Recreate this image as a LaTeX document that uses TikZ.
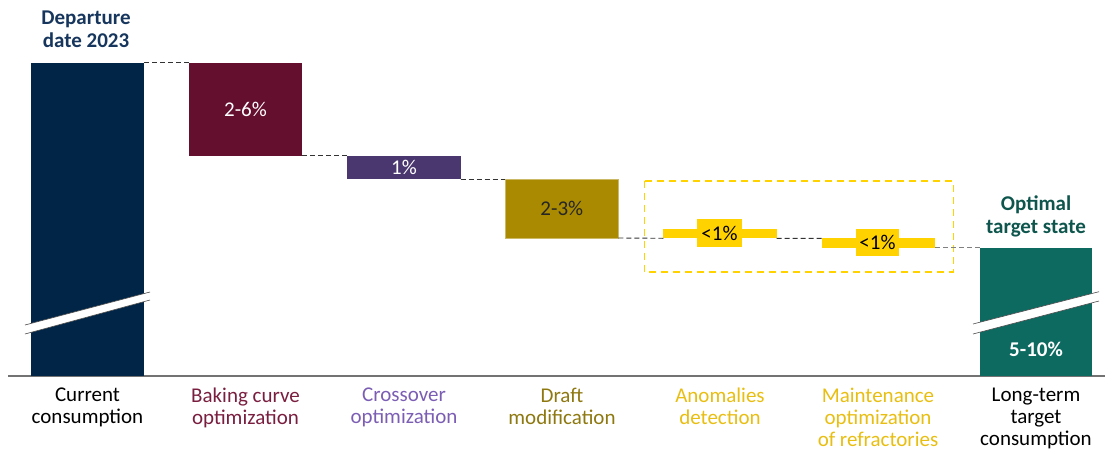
\documentclass[tikz,border=0pt]{standalone}
\usepackage{fontspec}
\setmainfont{Carlito}
\definecolor{cnavy}{HTML}{002547}
\definecolor{cmaroon}{HTML}{650F2F}
\definecolor{cpurple}{HTML}{4A376F}
\definecolor{colive}{HTML}{A98A00}
\definecolor{cyellow}{HTML}{FFD200}
\definecolor{cteal}{HTML}{0C6A61}
\definecolor{tnavy}{HTML}{17365D}
\definecolor{tteal}{HTML}{0E564D}
\definecolor{lmaroon}{HTML}{7A1E40}
\definecolor{lpurple}{HTML}{7B5EB4}
\definecolor{lolive}{HTML}{8E7810}
\definecolor{lyellow}{HTML}{E8BE12}
\begin{document}
\begin{tikzpicture}[x=1pt,y=-1pt,
  bar/.style={anchor=north west,inner sep=0pt,outer sep=0pt,font=\fontsize{21}{22}\selectfont},
  cat/.style={anchor=north,inner sep=0pt,align=center,font=\fontsize{21}{22}\selectfont},
  ttl/.style={anchor=north,inner sep=0pt,align=center,font=\bfseries\fontsize{21}{23}\selectfont},
  conn/.style={black!80,line width=0.9pt,dash pattern=on 5pt off 3pt},
  brk/.style={fill=white,draw=none}]
\useasboundingbox (0,0) rectangle (1105,450);
% baseline
\draw[gray!90!black,line width=1.4pt] (8,376) -- (1105,376);
% bars
\node[bar,fill=cnavy,minimum width=113pt,minimum height=313.3pt] (cur) at (31,62.7) {};
\node[bar,fill=cmaroon,text=white,minimum width=113pt,minimum height=93pt] (bak) at (189,62.7) {2-6\%};
\node[bar,fill=cpurple,text=white,minimum width=113.4pt,minimum height=23.6pt] (cro) at (347.3,155.7) {1\%};
\node[bar,fill=colive,draw=colive!60!white,line width=0.6pt,text=black!85,minimum width=113pt,minimum height=58.7pt] (dra) at (505.3,179.3) {2-3\%};
\node[bar,fill=cyellow,minimum width=113.4pt,minimum height=9.3pt] (ano) at (663.3,229) {};
\node[fill=cyellow,inner sep=0pt,minimum width=44.4pt,minimum height=28pt,font=\fontsize{21}{22}\selectfont] (anol) at (719.5,233.3) {<1\%};
\node[bar,fill=cyellow,minimum width=113.3pt,minimum height=9.4pt] (mai) at (821.7,238.3) {};
\node[fill=cyellow,inner sep=0pt,minimum width=43.6pt,minimum height=26.7pt,font=\fontsize{21}{22}\selectfont] (mail) at (877.5,242.3) {<1\%};
\node[bar,fill=cteal,minimum width=112.3pt,minimum height=128.3pt] (lon) at (980,247.7) {};
\node[inner sep=0pt,text=white,font=\bfseries\fontsize{21}{22}\selectfont] (lonv) at (1036,349) {5-10\%};
% dashed yellow box
\coordinate (ybA) at (644.3,180.7);
\coordinate (ybB) at (953.3,271.7);
\draw[cyellow,line width=1.6pt,dash pattern=on 7pt off 5pt] (ybA) rectangle (ybB);
% connectors
\draw[conn] (cur.north east) -- (bak.north west);
\draw[conn] (bak.south east) -- (cro.north west);
\draw[conn] (cro.south east) -- (dra.north west);
\draw[conn] (dra.south east) -- (ano.south west);
\draw[conn] (ano.south east) -- (mai.north west);
\draw[conn,gray] (mai.south east) -- (lon.north west);
% breaks
\fill[white] (25,325) -- (150,292) -- (150,300) -- (25,334) -- cycle;
\draw[black!70,line width=0.6pt] (25,325) -- (150,292) (25,334) -- (150,300);
\fill[white] (973,324) -- (1099,291.7) -- (1099,301) -- (973,334) -- cycle;
\draw[black!70,line width=0.6pt] (973,324) -- (1099,291.7) (973,334) -- (1099,301);
% titles
\node[ttl,text=tnavy] (t1) at (86,11) {Departure\\date 2023};
\node[ttl,text=tteal] (t2) at (1036,196) {Optimal\\target state};
% category labels
\node[cat,text=black] (c1) at (87.5,387.5) {Current\\consumption};
\node[cat,text=lmaroon] (c2) at (245.5,387.5) {Baking curve\\optimization};
\node[cat,text=lpurple] (c3) at (404,387.5) {Crossover\\optimization};
\node[cat,text=lolive] (c4) at (562,387.5) {Draft\\modification};
\node[cat,text=lyellow] (c5) at (720,387.5) {Anomalies\\detection};
\node[cat,text=lyellow] (c6) at (878,387.5) {Maintenance\\optimization\\of refractories};
\node[cat,text=black] (c7) at (1036,387.5) {Long-term\\target\\consumption};
\end{tikzpicture}
\end{document}
